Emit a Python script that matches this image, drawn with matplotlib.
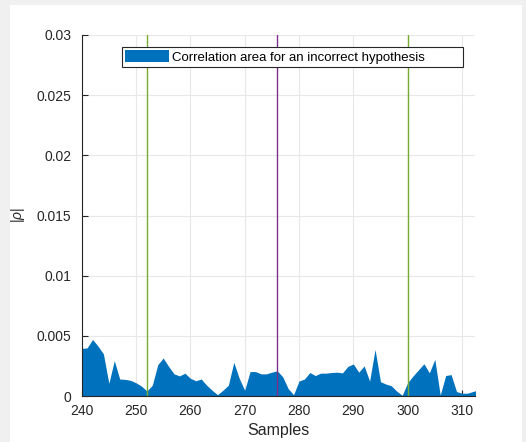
import matplotlib
matplotlib.use("Agg")
import matplotlib.pyplot as plt
from matplotlib.patches import Rectangle
import numpy as np

plt.rcParams['font.family'] = ['Liberation Sans', 'DejaVu Sans']
plt.rcParams['mathtext.fontset'] = 'custom'
plt.rcParams['mathtext.it'] = 'Liberation Sans:italic'
plt.rcParams['mathtext.rm'] = 'Liberation Sans'

# correlation |rho| per sample (in units of 1e-3)
samples = np.arange(240, 314)
rho_e3 = [3.95, 4.0, 4.7, 4.15, 3.5, 1.05, 2.94, 1.41, 1.38, 1.3,
          1.1, 0.82, 0.42, 0.9, 2.6, 3.16, 2.46, 1.84, 1.67, 1.9,
          1.47, 1.27, 1.41, 0.9, 0.48, 0.11, 0.48, 0.9, 2.8, 1.47,
          0.48, 2.03, 2.03, 1.84, 1.84, 1.98, 2.09, 1.6, 0.62, 0.11,
          1.24, 1.41, 1.95, 1.7, 1.9, 1.9, 1.95, 1.98, 1.92, 2.46,
          2.66, 1.98, 2.5, 1.24, 3.87, 1.19, 0.99, 0.85, 0.4, 0.06,
          1.1, 1.67, 2.18, 2.68, 1.92, 3.05, 0.08, 1.7, 1.78, 0.37,
          0.23, 0.23, 0.37, 0.5]
rho = np.array(rho_e3) * 1e-3

# marker lines
green_x = [252, 300]
purple_x = [276]

xticks = [240, 250, 260, 270, 280, 290, 300, 310]
yticks = [0, 0.005, 0.01, 0.015, 0.02, 0.025, 0.03]
ytick_labels = ['0', '0.005', '0.01', '0.015', '0.02', '0.025', '0.03']

fig = plt.figure(figsize=(5.26, 4.42), dpi=100)
fig.patch.set_facecolor('#f0f0f0')
bg = Rectangle((10/526, 0), 512/526, 437/442, transform=fig.transFigure,
               facecolor='white', edgecolor='none', zorder=-10)
fig.add_artist(bg)

ax = fig.add_axes([81.7/526, 1 - 396/442, 393.3/526, 361/442])
ax.set_facecolor('none')
ax.set_zorder(1)

ax.fill_between(samples, 0, rho, color='#0072bd', lw=0, zorder=2,
                label='Correlation area for an incorrect hypothesis')
for x in green_x:
    ax.axvline(x, color='#77ac30', lw=1.0, zorder=3)
for x in purple_x:
    ax.axvline(x, color='#7e2f8e', lw=1.0, zorder=3)

ax.set_xlim(240, 312.4)
ax.set_ylim(0, 0.03)
ax.set_xticks(xticks)
ax.set_yticks(yticks)
ax.set_yticklabels(ytick_labels)
ax.grid(True, color='#e8e8e8', lw=0.8, zorder=0)
ax.set_axisbelow(True)

for s in ['top', 'right']:
    ax.spines[s].set_visible(False)
for s in ['left', 'bottom']:
    ax.spines[s].set_color('#262626')
    ax.spines[s].set_linewidth(0.8)
ax.tick_params(direction='in', length=4, width=0.8, colors='#262626',
               labelsize=10)
ax.tick_params(axis='x', pad=6)
ax.tick_params(axis='y', pad=7.5)

ax.set_xlabel('Samples', fontsize=11.5, color='#262626', labelpad=3)
ax.set_ylabel(r'$|\rho|$', fontsize=10, color='#262626')
ax.yaxis.set_label_coords(-0.138, 0.5)

leg = ax.legend(loc='upper left', bbox_to_anchor=(0.1025, 0.911, 0.867, 0.0558),
                mode='expand', borderaxespad=0, fontsize=9.5, handlelength=3.3,
                handleheight=1.0, handletextpad=0.25, borderpad=0.25,
                fancybox=False, framealpha=1)
leg.get_frame().set_edgecolor('#262626')
leg.get_frame().set_linewidth(0.8)

fig.savefig('out.png', dpi=100)
